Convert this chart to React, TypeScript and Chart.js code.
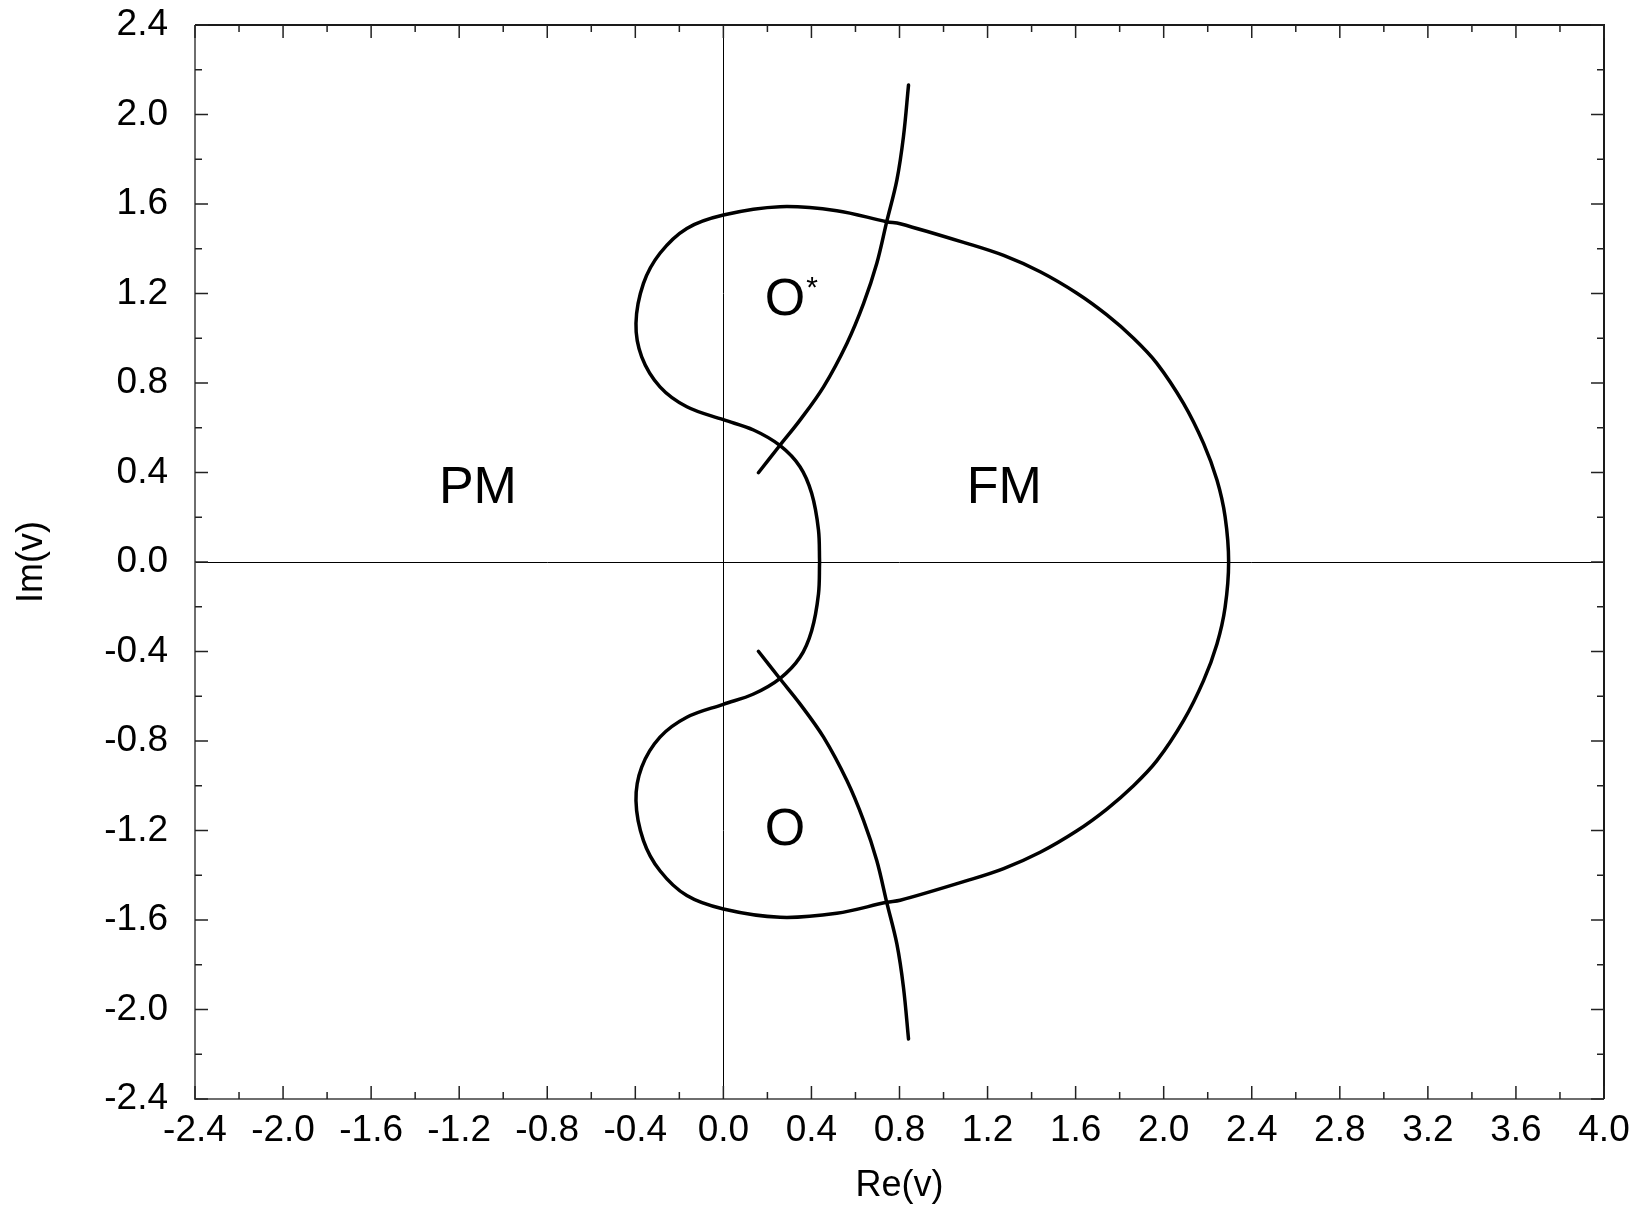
import React, { useEffect, useRef } from 'react';
import { Chart, registerables } from 'chart.js';

Chart.register(...registerables);

// ---- data ----
const xTickValues = [-2.4, -2.0, -1.6, -1.2, -0.8, -0.4, 0.0, 0.4, 0.8, 1.2, 1.6, 2.0, 2.4, 2.8, 3.2, 3.6, 4.0];
const yTickValues = [-2.4, -2.0, -1.6, -1.2, -0.8, -0.4, 0.0, 0.4, 0.8, 1.2, 1.6, 2.0, 2.4];

// closed phase boundary (Re, Im)
const boundaryRe = [
  0.437, 0.432, 0.401, 0.348, 0.258, 0.137, 0.000, -0.166, -0.288, -0.371, -0.397, -0.363, -0.288, -0.166,
  0.000, 0.258, 0.515, 0.742, 0.803, 1.106, 1.273, 1.439, 1.606, 1.742, 1.863, 1.969, 2.090, 2.181, 2.242,
  2.279, 2.295,
  2.279, 2.242, 2.181, 2.090, 1.969, 1.863, 1.742, 1.606, 1.439, 1.273, 1.106, 0.803, 0.742, 0.515, 0.258,
  0.000, -0.166, -0.288, -0.363, -0.397, -0.371, -0.288, -0.166, 0.000, 0.137, 0.258, 0.348, 0.401, 0.432,
  0.437,
];
const boundaryIm = [
  0.000, 0.143, 0.307, 0.426, 0.520, 0.590, 0.636, 0.694, 0.783, 0.917, 1.067, 1.245, 1.380, 1.491,
  1.551, 1.588, 1.570, 1.521, 1.512, 1.424, 1.370, 1.297, 1.201, 1.104, 1.000, 0.888, 0.709, 0.530, 0.366,
  0.202, 0.000,
  -0.202, -0.366, -0.530, -0.709, -0.888, -1.000, -1.104, -1.201, -1.297, -1.370, -1.424, -1.512, -1.521, -1.570, -1.588,
  -1.551, -1.491, -1.380, -1.245, -1.067, -0.917, -0.783, -0.694, -0.636, -0.590, -0.520, -0.426, -0.307, -0.143,
  0.000,
];

// upper branch crossing the boundary
const upperBranchRe = [0.159, 0.258, 0.348, 0.455, 0.561, 0.637, 0.697, 0.742, 0.788, 0.818, 0.841];
const upperBranchIm = [0.399, 0.523, 0.634, 0.783, 0.977, 1.156, 1.335, 1.521, 1.707, 1.901, 2.132];
// lower branch
const lowerBranchRe = [0.159, 0.258, 0.348, 0.455, 0.561, 0.637, 0.697, 0.742, 0.788, 0.818, 0.841];
const lowerBranchIm = [-0.399, -0.523, -0.634, -0.783, -0.977, -1.156, -1.335, -1.521, -1.707, -1.901, -2.132];

// region labels (anchored in data coordinates)
const regionText = ['PM', 'FM', 'O', 'O'];
const regionRe = [-1.115, 1.276, 0.280, 0.280];
const regionIm = [0.348, 0.348, 1.189, -1.183];
const regionStar = [false, false, true, false];

const FONT = 'Liberation Sans, Arial, Helvetica, sans-serif';

const toPoints = (xs: number[], ys: number[]) => xs.map((x, i) => ({ x, y: ys[i] }));
const fmt = (v: number) => (Math.abs(v) < 1e-9 ? '0.0' : v.toFixed(1));

const framePlugin = {
  id: 'framePlugin',
  beforeDatasetsDraw(chart: any) {
    const { ctx, chartArea: a, scales } = chart;
    const x0 = Math.round(scales.x.getPixelForValue(0)) + 0.5;
    const y0 = Math.round(scales.y.getPixelForValue(0)) + 0.5;
    ctx.save();
    ctx.strokeStyle = '#000';
    ctx.lineWidth = 1;
    ctx.beginPath();
    ctx.moveTo(x0, a.top);
    ctx.lineTo(x0, a.bottom);
    ctx.moveTo(a.left, y0);
    ctx.lineTo(a.right, y0);
    ctx.stroke();
    ctx.restore();
  },
  afterDatasetsDraw(chart: any) {
    const { ctx, chartArea: a, scales } = chart;
    ctx.save();
    // frame
    ctx.lineWidth = 2;
    ctx.strokeStyle = '#6e6e6e';
    ctx.beginPath();
    ctx.moveTo(a.left, a.top);
    ctx.lineTo(a.left, a.bottom);
    ctx.lineTo(a.right, a.bottom);
    ctx.stroke();
    ctx.strokeStyle = '#1a1a1a';
    ctx.beginPath();
    ctx.moveTo(a.left, a.top);
    ctx.lineTo(a.right, a.top);
    ctx.lineTo(a.right, a.bottom);
    ctx.stroke();

    // tick marks (inward, all four sides)
    ctx.lineWidth = 1.5;
    ctx.strokeStyle = '#222';
    const major = 13;
    const minor = 7;
    const drawX = (v: number, len: number) => {
      const p = scales.x.getPixelForValue(v);
      ctx.beginPath();
      ctx.moveTo(p, a.bottom);
      ctx.lineTo(p, a.bottom - len);
      ctx.moveTo(p, a.top);
      ctx.lineTo(p, a.top + len);
      ctx.stroke();
    };
    const drawY = (v: number, len: number) => {
      const p = scales.y.getPixelForValue(v);
      ctx.beginPath();
      ctx.moveTo(a.left, p);
      ctx.lineTo(a.left + len, p);
      ctx.moveTo(a.right, p);
      ctx.lineTo(a.right - len, p);
      ctx.stroke();
    };
    xTickValues.forEach((v, i) => {
      drawX(v, major);
      if (i < xTickValues.length - 1) drawX((v + xTickValues[i + 1]) / 2, minor);
    });
    yTickValues.forEach((v, i) => {
      drawY(v, major);
      if (i < yTickValues.length - 1) drawY((v + yTickValues[i + 1]) / 2, minor);
    });

    // region labels
    ctx.fillStyle = '#000';
    ctx.textAlign = 'center';
    ctx.textBaseline = 'alphabetic';
    const size = 52;
    regionText.forEach((t, i) => {
      const px = scales.x.getPixelForValue(regionRe[i]);
      const py = scales.y.getPixelForValue(regionIm[i]);
      ctx.font = `${size}px ${FONT}`;
      ctx.fillText(t, px, py + 0.358 * size);
      if (regionStar[i]) {
        ctx.font = `30px ${FONT}`;
        ctx.fillText('*', px + 27, py - 16 + 0.57 * 30);
      }
    });
    ctx.restore();
  },
};

export default function App() {
  const canvasRef = useRef<HTMLCanvasElement | null>(null);

  useEffect(() => {
    if (!canvasRef.current) return;
    const lineStyle = {
      showLine: true,
      borderColor: '#000',
      borderWidth: 3.5,
      pointRadius: 0,
      pointHoverRadius: 0,
      fill: false,
      tension: 0.35,
      borderCapStyle: 'round' as const,
      borderJoinStyle: 'round' as const,
    };
    const chart = new Chart(canvasRef.current, {
      type: 'scatter',
      data: {
        datasets: [
          { label: 'boundary', data: toPoints(boundaryRe, boundaryIm), ...lineStyle },
          { label: 'upper', data: toPoints(upperBranchRe, upperBranchIm), ...lineStyle },
          { label: 'lower', data: toPoints(lowerBranchRe, lowerBranchIm), ...lineStyle },
        ],
      },
      options: {
        animation: false,
        responsive: false,
        devicePixelRatio: 1,
        layout: { padding: { top: 25, right: 37, bottom: 0, left: 0 } },
        plugins: { legend: { display: false }, tooltip: { enabled: false } },
        scales: {
          x: {
            type: 'linear',
            position: 'bottom',
            min: -2.4,
            max: 4.0,
            afterBuildTicks: (s: any) => {
              s.ticks = xTickValues.map((v) => ({ value: v }));
            },
            afterFit: (s: any) => {
              s.height = 112;
              s.paddingLeft = 0;
              s.paddingRight = 0;
            },
            grid: { display: false, drawTicks: false },
            border: { display: false },
            ticks: {
              autoSkip: false,
              maxRotation: 0,
              minRotation: 0,
              padding: 10,
              color: '#000',
              font: { family: FONT, size: 37 },
              callback: (v: any) => fmt(Number(v)),
            },
            title: {
              display: true,
              text: 'Re(v)',
              color: '#000',
              font: { family: FONT, size: 36 },
              padding: { top: 0, bottom: 3 },
            },
          },
          y: {
            type: 'linear',
            position: 'left',
            min: -2.4,
            max: 2.4,
            afterBuildTicks: (s: any) => {
              s.ticks = yTickValues.map((v) => ({ value: v }));
            },
            afterFit: (s: any) => {
              s.width = 195;
              s.paddingTop = 0;
              s.paddingBottom = 0;
            },
            grid: { display: false, drawTicks: false },
            border: { display: false },
            ticks: {
              autoSkip: false,
              padding: 27,
              color: '#000',
              font: { family: FONT, size: 37 },
              callback: (v: any) => fmt(Number(v)),
            },
            title: {
              display: true,
              text: 'Im(v)',
              color: '#000',
              font: { family: FONT, size: 36 },
              padding: { top: 10, bottom: 0 },
            },
          },
        },
      },
      plugins: [framePlugin],
    });
    return () => chart.destroy();
  }, []);

  return (
    <div style={{ position: 'absolute', left: 0, top: 0, width: 1641, height: 1211, background: '#fff' }}>
      <canvas ref={canvasRef} width={1641} height={1211} style={{ width: 1641, height: 1211, display: 'block' }} />
    </div>
  );
}
